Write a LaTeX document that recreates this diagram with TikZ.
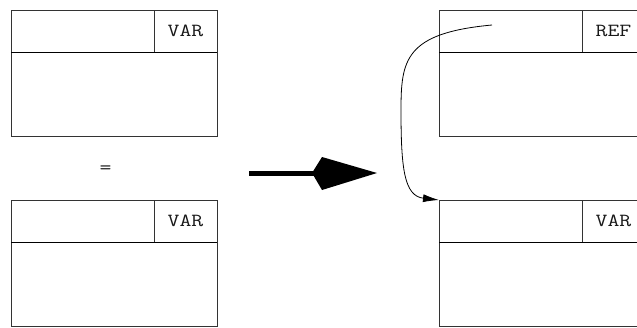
\documentclass[tikz,border=0pt]{standalone}
\usepackage{fontspec}
\usetikzlibrary{arrows.meta}
\newfontfamily\boxfont[FakeStretch=1.25]{Latin Modern Mono}
\begin{document}
\begin{tikzpicture}[x=1pt,y=-1pt,
  frame/.style={draw=black!80, line width=0.8pt, minimum width=206pt,
    minimum height=126pt, inner sep=0pt, outer sep=0pt, anchor=north west},
  tag/.style={draw=black!80, line width=0.8pt, minimum width=63pt,
    minimum height=42pt, inner sep=0pt, outer sep=0pt, anchor=north east,
    font=\boxfont\fontsize{18.5}{18.5}\selectfont, text=black!90},
  header/.style={draw=black, line width=1pt},
  link/.style={draw=black, line width=0.8pt, -{Latex[length=16pt,width=8pt]}},
  bigarrow/.style={line width=5pt, black}
]
\useasboundingbox (0,0) rectangle (637,327);

% left column: two variable frames with an equals sign between them
\node[frame] (lt) at (11,10) {};
\node[tag] (ltag) at (lt.north east) {VAR};
\draw[header] (lt.west |- ltag.south) -- (ltag.south east);

\node[font=\boxfont\fontsize{18.5}{18.5}\selectfont, text=black!90] (eq) at (105.5,170) {=};

\node[frame] (lb) at (11,200) {};
\node[tag] (lbtag) at (lb.north east) {VAR};
\draw[header] (lb.west |- lbtag.south) -- (lbtag.south east);

% right column: reference frame pointing at variable frame
\node[frame] (rt) at (439,10) {};
\node[tag] (rtag) at (rt.north east) {REF};
\draw[header] (rt.west |- rtag.south) -- (rtag.south east);

\node[frame] (rb) at (439,200) {};
\node[tag] (rbtag) at (rb.north east) {VAR};
\draw[header] (rb.west |- rbtag.south) -- (rbtag.south east);

% pointer from the reference slot to the target frame
\coordinate (ptr) at (492,25);
\draw[link] (ptr) .. controls (405,33) and (401,60) .. (401,110)
  .. controls (401,168) and (404,196) .. (rb.north west);

% transformation arrow
\coordinate (as) at (249,173);
\coordinate (ab) at (314,173);
\coordinate (ae) at (377,173);
\draw[bigarrow] (as) -- (ab);
\fill[black] (312,173) -- (322,157) -- (ae) -- (322,190) -- cycle;
\end{tikzpicture}
\end{document}
